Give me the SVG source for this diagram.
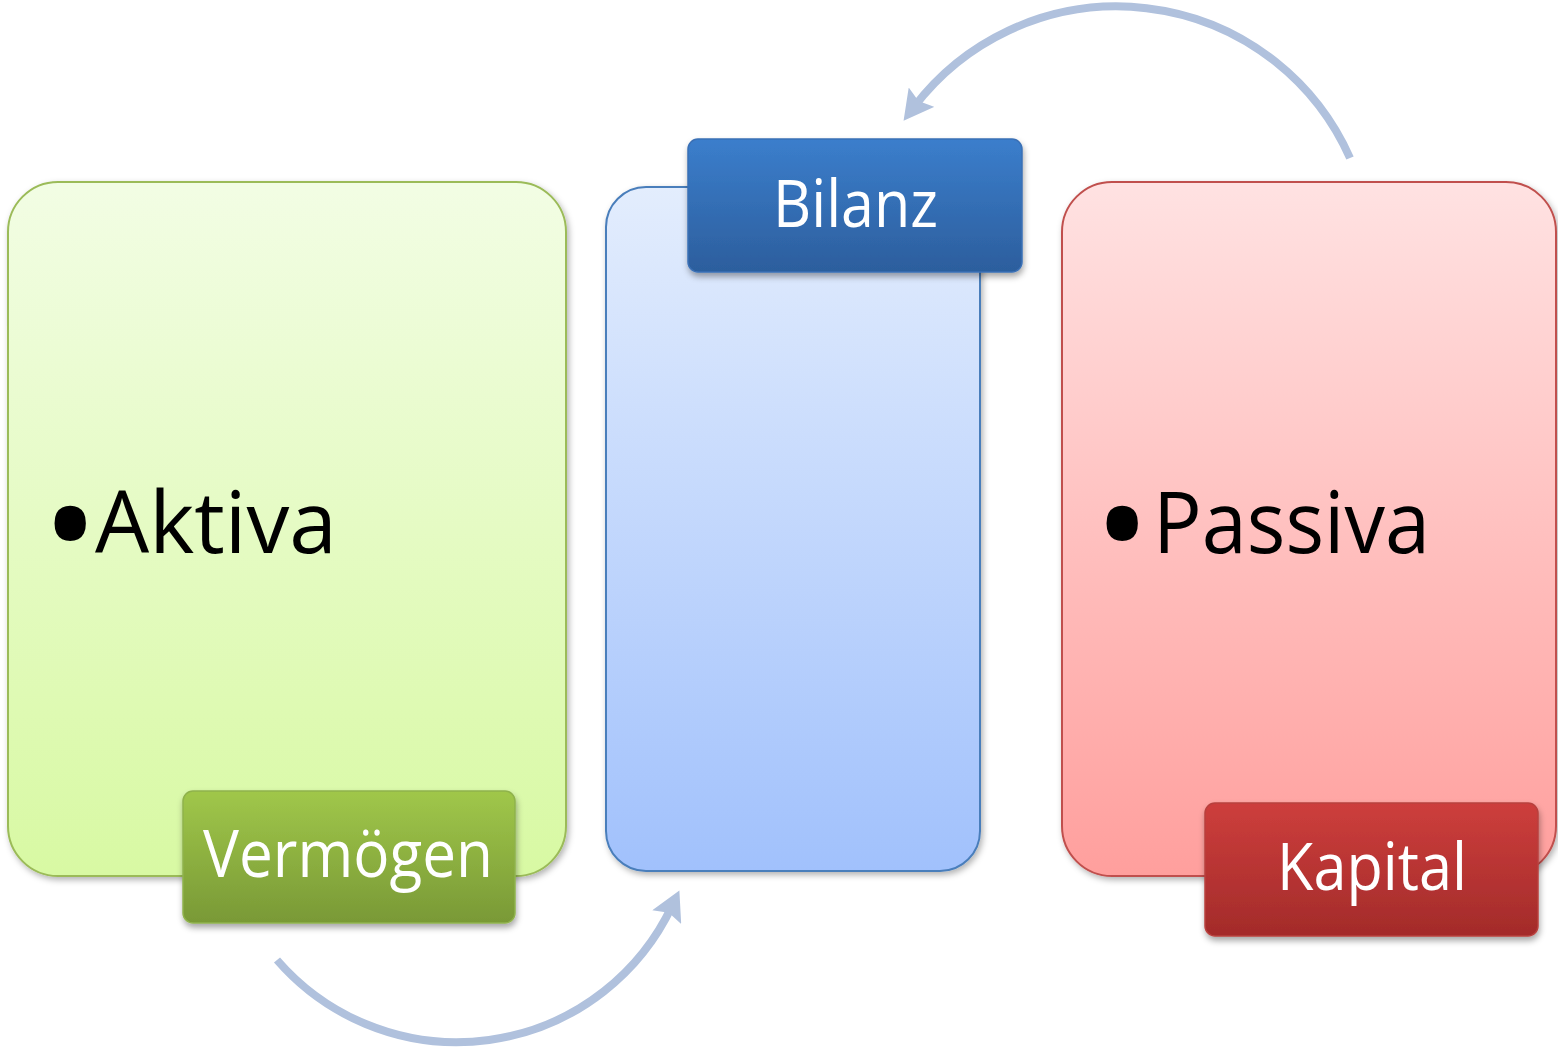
<svg xmlns="http://www.w3.org/2000/svg" width="1558" height="1057" viewBox="0 0 1558 1057">
<style>
  .big { stroke-width: 2; filter: url(#sh); }
  .lbl { stroke-width: 1.5; filter: url(#sh2); }
  .lt { font-family: "Open Sans", "Noto Sans", sans-serif; fill: #ffffff; font-size: 66px; text-anchor: middle; }
  .bt { font-family: "Open Sans", "Noto Sans", sans-serif; fill: #000000; font-size: 86px; }
  .arc { fill: none; stroke: #b0c1dd; stroke-width: 8; marker-end: url(#ah); }
</style>
<defs>
  <filter id="sh" x="-10%" y="-10%" width="120%" height="120%">
    <feDropShadow dx="2" dy="3" stdDeviation="3" flood-color="#000" flood-opacity="0.3"/>
  </filter>
  <filter id="sh2" x="-10%" y="-10%" width="120%" height="130%">
    <feDropShadow dx="1" dy="4" stdDeviation="3" flood-color="#000" flood-opacity="0.35"/>
  </filter>
  <linearGradient id="gG" x1="0" y1="0" x2="0" y2="1"><stop offset="0" stop-color="#f2fde4"/><stop offset="1" stop-color="#d8f9a3"/></linearGradient>
  <linearGradient id="gB" x1="0" y1="0" x2="0" y2="1"><stop offset="0" stop-color="#e3edfd"/><stop offset="1" stop-color="#a1c1fc"/></linearGradient>
  <linearGradient id="gR" x1="0" y1="0" x2="0" y2="1"><stop offset="0" stop-color="#ffe2e2"/><stop offset="1" stop-color="#ff9f9d"/></linearGradient>
  <linearGradient id="lG" x1="0" y1="0" x2="0" y2="1"><stop offset="0" stop-color="#a0c74a"/><stop offset="1" stop-color="#799936"/></linearGradient>
  <linearGradient id="lB" x1="0" y1="0" x2="0" y2="1"><stop offset="0" stop-color="#3b7ecc"/><stop offset="1" stop-color="#2c5e9d"/></linearGradient>
  <linearGradient id="lR" x1="0" y1="0" x2="0" y2="1"><stop offset="0" stop-color="#cd3e3c"/><stop offset="1" stop-color="#a32b2a"/></linearGradient>
  <marker id="ah" markerUnits="userSpaceOnUse" markerWidth="32" markerHeight="32" viewBox="0 0 24 26" refX="10" refY="13" orient="auto">
    <path d="M0,0 L24,13 L0,26 L4,13 z" fill="#b0c1dd"/>
  </marker>
</defs>

<g id="connectors">
  <path class="arc" d="M 1350 158 A 255 255 0 0 0 914 107"/>
  <path class="arc" d="M 277 960 A 238 238 0 0 0 672 906"/>
</g>

<g id="aktiva">
  <rect class="big" x="8" y="182" width="558" height="694" rx="50" fill="url(#gG)" stroke="#9bbb59"/>
  <text class="bt"><tspan x="42" y="578" font-size="150">•</tspan><tspan x="95" y="553" textLength="242" lengthAdjust="spacingAndGlyphs">Aktiva</tspan></text>
</g>
<g id="vermoegen">
  <rect class="lbl" x="183" y="791" width="332" height="132" rx="10" fill="url(#lG)" stroke="#8fb24c"/>
  <text class="lt" x="348" y="877" textLength="290" lengthAdjust="spacingAndGlyphs">Vermögen</text>
</g>

<g id="bilanz-box">
  <rect class="big" x="606" y="187" width="374" height="684" rx="40" fill="url(#gB)" stroke="#4a7ebb"/>
</g>
<g id="bilanz">
  <rect class="lbl" x="688" y="139" width="334" height="133" rx="10" fill="url(#lB)" stroke="#3a70b5"/>
  <text class="lt" x="855.5" y="227" textLength="165" lengthAdjust="spacingAndGlyphs">Bilanz</text>
</g>

<g id="passiva">
  <rect class="big" x="1062" y="182" width="494" height="694" rx="50" fill="url(#gR)" stroke="#c0504d"/>
  <text class="bt"><tspan x="1094" y="578" font-size="150">•</tspan><tspan x="1153" y="553" textLength="277" lengthAdjust="spacingAndGlyphs">Passiva</tspan></text>
</g>
<g id="kapital">
  <rect class="lbl" x="1205" y="803" width="333" height="133" rx="10" fill="url(#lR)" stroke="#b8403e"/>
  <text class="lt" x="1372" y="890" textLength="190" lengthAdjust="spacingAndGlyphs">Kapital</text>
</g>
</svg>
